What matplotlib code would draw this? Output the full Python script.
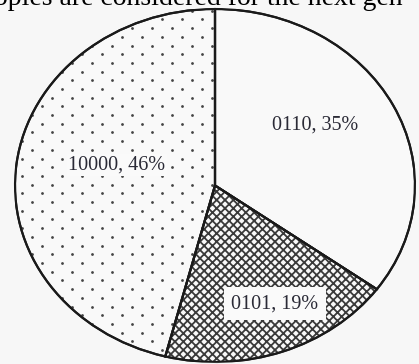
import numpy as np
import matplotlib
matplotlib.use("Agg")
import matplotlib.pyplot as plt
from matplotlib.patches import Wedge

# ---- data ----
labels = ["0110", "0101", "10000"]
shares = [35, 19, 46]
hatches = ["", "xxxx", ""]
caption = "oples are considered for the next gen"

# ---- layout (not data) ----
label_pos = [(0.50, 0.343), (0.30, -0.671), (-0.49, 0.116)]
label_pad = [None, 0.35, 0.08]

plt.rcParams['hatch.linewidth'] = 1.3
W, H = 419, 364
fig = plt.figure(figsize=(W / 100, H / 100), dpi=100, facecolor="#f7f7f7")

cx, cy, rx, ry = 215, 364 - 185.5, 200, 176.5
ax = fig.add_axes([(cx - rx) / W, (cy - ry) / H, 2 * rx / W, 2 * ry / H])
ax.set_facecolor("none")

wedges, _ = ax.pie(shares, startangle=90, counterclock=False,
                   colors=["#f9f9f9"] * 3,
                   wedgeprops=dict(edgecolor="#1a1a1a", linewidth=1.5))
for w, h in zip(wedges, hatches):
    if h:
        w.set_hatch(h)
        w.set_edgecolor("#3a3a3a")
ax.set_aspect("auto")
ax.set_xlim(-1, 1)
ax.set_ylim(-1, 1)
ax.axis("off")

# black outlines on top
for w in wedges:
    outline = Wedge(w.center, w.r, w.theta1, w.theta2, facecolor="none",
                    edgecolor="#1a1a1a", linewidth=1.6, zorder=3)
    ax.add_patch(outline)

# dotted texture for the 10000 slice
fig.canvas.draw()
pts = []
for i, yy in enumerate(np.arange(0, H + 10, 8.7)):
    off = 10.0 if i % 2 else 0.0
    for xx in np.arange(-20, W + 20, 20.0):
        pts.append((xx + off + 1.7, H - yy - 2))
pts = np.array(pts)
dpts = ax.transData.inverted().transform(pts)
sc = ax.scatter(dpts[:, 0], dpts[:, 1], s=4.0, color="#444444", linewidths=0, zorder=2)
sc.set_clip_path(wedges[2])

for (lx, ly), lab, sh, pad in zip(label_pos, labels, shares, label_pad):
    kw = {}
    if pad is not None:
        kw["bbox"] = dict(boxstyle=f"square,pad={pad}", facecolor="#fafafa", edgecolor="none")
    ax.text(lx, ly, f"{lab}, {sh}%", ha="center", va="center",
            family="Liberation Serif", fontsize=14.5, color="#2a2a36", zorder=5, **kw)

fig.text(-6 / W, 1 - 5 / H, caption, ha="left", va="baseline",
         family="Liberation Serif", fontsize=20, color="black")

fig.savefig("out.png", dpi=100, facecolor=fig.get_facecolor())
